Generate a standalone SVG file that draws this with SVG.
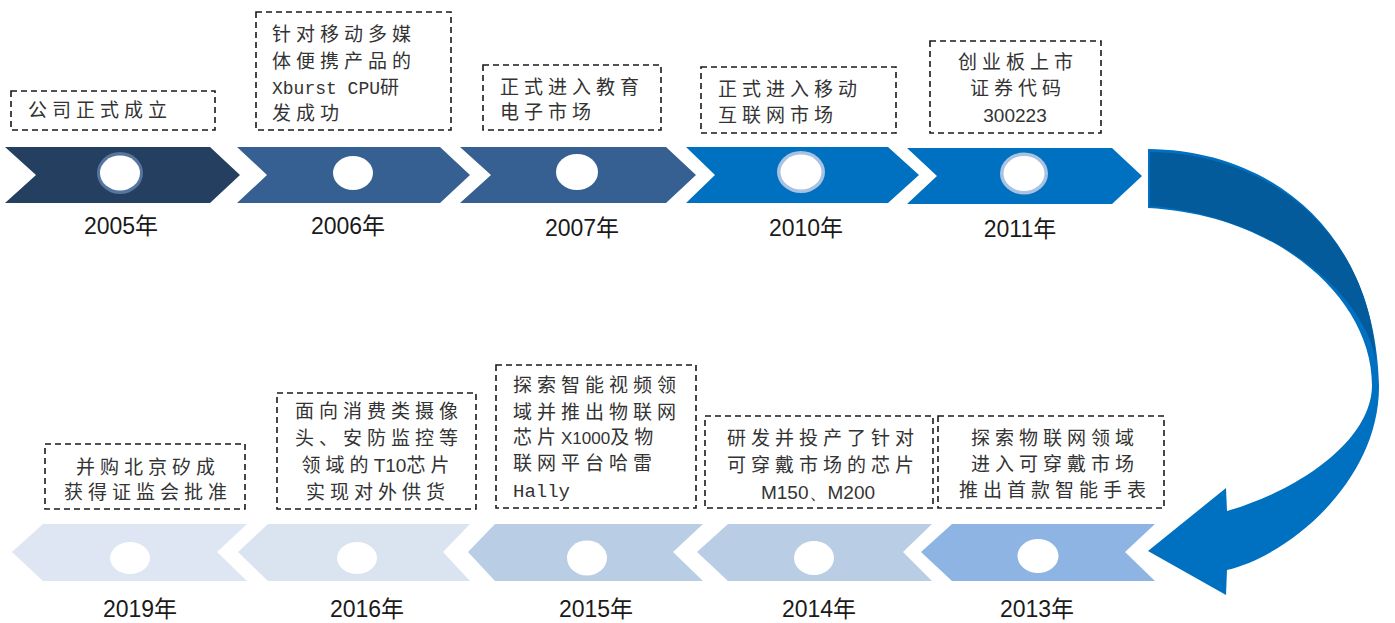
<svg xmlns="http://www.w3.org/2000/svg" width="1395" height="623" viewBox="0 0 1395 623">
<defs>
<style>
.box{fill:none;stroke:#1a1a1a;stroke-width:1.6;stroke-dasharray:6 4}
.t{font-family:"Noto Sans CJK SC","Noto Sans CJK JP",sans-serif;font-size:19px;letter-spacing:5px;fill:#333}
.c{text-anchor:middle}
.lat{font-family:"Liberation Sans",Arial,sans-serif;letter-spacing:0}
.mono{font-family:"Liberation Mono","Courier New",monospace;letter-spacing:0}
.yr{font-family:"Liberation Sans","Noto Sans CJK SC",sans-serif;font-size:23px;fill:#1a1a1a;text-anchor:middle}
.dot{fill:#fff}
</style>
</defs>
<rect width="1395" height="623" fill="#fff"/>

<g id="connectors">
<path d="M1148,149 C1270,150 1375,230 1379,385 C1380,480 1290,555 1227,570 L1226,595 L1148,551 L1226,488 L1227,511 C1300,490 1372,440 1372,385 C1372,300 1280,215 1148,208 Z" fill="#0070c0"/>
<path d="M1150,152 C1268,153 1370,232 1376,362 C1366,295 1275,216 1150,206 Z" fill="#045b9b"/>
</g>

<g id="n2005">
<path d="M5,147 L210,147 L240,175 L210,203 L5,203 L36,175 Z" fill="#253f61"/>
<ellipse cx="120" cy="173" rx="23" ry="21" fill="#56769e"/>
<ellipse class="dot" cx="120" cy="173" rx="20" ry="17.5"/>
<text class="yr" x="121" y="234">2005年</text>
<rect class="box" x="11" y="91" width="204" height="39"/>
<text class="t" x="28" y="117">公司正式成立</text>
</g>

<g id="n2006">
<path d="M237,147 L440,147 L470,175 L440,203 L237,203 L267,175 Z" fill="#376092"/>
<ellipse class="dot" cx="353" cy="173" rx="20" ry="17"/>
<text class="yr" x="348" y="234">2006年</text>
<rect class="box" x="256" y="12" width="195" height="118"/>
<text class="t" x="272" y="41">针对移动多媒</text>
<text class="t" x="272" y="68">体便携产品的</text>
<text class="t" x="272" y="94"><tspan class="mono" font-size="18">Xburst CPU</tspan>研</text>
<text class="t" x="272" y="120">发成功</text>
</g>

<g id="n2007">
<path d="M460,147 L666,147 L696,175 L666,203 L460,203 L491,175 Z" fill="#376092"/>
<ellipse class="dot" cx="577" cy="172" rx="21" ry="18"/>
<text class="yr" x="582" y="236">2007年</text>
<rect class="box" x="483" y="65" width="178" height="65"/>
<text class="t" x="500" y="94">正式进入教育</text>
<text class="t" x="500" y="119">电子市场</text>
</g>

<g id="n2010">
<path d="M686,147 L888,147 L919,175 L888,203 L686,203 L715,175 Z" fill="#0070c0"/>
<ellipse cx="801" cy="172" rx="24" ry="21" fill="#a8c2e2"/>
<ellipse class="dot" cx="801" cy="172" rx="20.5" ry="17.5"/>
<text class="yr" x="806" y="236">2010年</text>
<rect class="box" x="701" y="67" width="195" height="66"/>
<text class="t" x="718" y="96">正式进入移动</text>
<text class="t" x="718" y="122">互联网市场</text>
</g>

<g id="n2011">
<path d="M907,148 L1112,148 L1142,176 L1112,204 L907,204 L937,176 Z" fill="#0070c0"/>
<ellipse cx="1024" cy="173.5" rx="24" ry="21" fill="#a8c2e2"/>
<ellipse class="dot" cx="1024" cy="173.5" rx="20.5" ry="17.5"/>
<text class="yr" x="1020" y="237">2011年</text>
<rect class="box" x="930" y="41" width="171" height="92"/>
<text class="t c" x="1018" y="69">创业板上市</text>
<text class="t c" x="1018" y="95">证券代码</text>
<text class="t c lat" x="1015" y="122" font-size="20">300223</text>
</g>

<g id="n2013">
<path d="M921,552 L952,524 L1155,524 L1125,552 L1155,581 L952,581 Z" fill="#8eb4e3"/>
<ellipse class="dot" cx="1038" cy="556" rx="20.5" ry="17"/>
<text class="yr" x="1037" y="617">2013年</text>
<rect class="box" x="938" y="416" width="226" height="92"/>
<text class="t c" x="1055" y="445">探索物联网领域</text>
<text class="t c" x="1055" y="471">进入可穿戴市场</text>
<text class="t c" x="1055" y="497">推出首款智能手表</text>
</g>

<g id="n2014">
<path d="M697,552 L728,524 L932,524 L903,552 L932,581 L728,581 Z" fill="#b9cde5"/>
<ellipse class="dot" cx="814" cy="558" rx="20" ry="17"/>
<text class="yr" x="819" y="617">2014年</text>
<rect class="box" x="705" y="416" width="228" height="92"/>
<text class="t c" x="823" y="445">研发并投产了针对</text>
<text class="t c" x="823" y="472">可穿戴市场的芯片</text>
<text class="t c lat" x="818" y="499"><tspan class="lat">M150</tspan>、<tspan class="lat">M200</tspan></text>
</g>

<g id="n2015">
<path d="M468,552 L495,524 L703,524 L673,552 L703,581 L495,581 Z" fill="#b9cde5"/>
<ellipse class="dot" cx="587" cy="558" rx="20" ry="17.5"/>
<text class="yr" x="596" y="617">2015年</text>
<rect class="box" x="496" y="365" width="200" height="143"/>
<text class="t" x="513" y="392">探索智能视频领</text>
<text class="t" x="513" y="419">域并推出物联网</text>
<text class="t" x="513" y="444">芯片<tspan class="lat" font-size="17">X1000</tspan>及物</text>
<text class="t" x="513" y="470">联网平台哈雷</text>
<text class="t" x="513" y="497"><tspan class="mono">Hally</tspan></text>
</g>

<g id="n2016">
<path d="M238,552 L268,524 L470,524 L443,552 L470,581 L268,581 Z" fill="#dae3f0"/>
<ellipse class="dot" cx="357" cy="558" rx="20" ry="16"/>
<text class="yr" x="367" y="617">2016年</text>
<rect class="box" x="277" y="393" width="199" height="116"/>
<text class="t c" x="379" y="418">面向消费类摄像</text>
<text class="t c" x="379" y="445">头、安防监控等</text>
<text class="t c" x="378" y="472">领域的<tspan class="lat">T10</tspan>芯片</text>
<text class="t c" x="378" y="499">实现对外供货</text>
</g>

<g id="n2019">
<path d="M12,552 L43,524 L247,524 L217,552 L247,581 L43,581 Z" fill="#dde6f2"/>
<ellipse class="dot" cx="130" cy="558" rx="20" ry="16"/>
<text class="yr" x="140" y="617">2019年</text>
<rect class="box" x="45" y="444" width="200" height="65"/>
<text class="t c" x="148" y="474">并购北京矽成</text>
<text class="t c" x="148" y="499">获得证监会批准</text>
</g>
</svg>
